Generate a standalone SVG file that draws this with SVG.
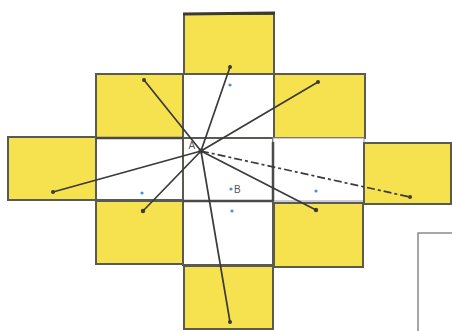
<svg xmlns="http://www.w3.org/2000/svg" width="452" height="331" viewBox="0 0 452 331">
<style>
.y{fill:#f6e24e;stroke:#5a5a55;stroke-width:2}
.w{fill:#ffffff;stroke:#5a5a55;stroke-width:2}
.ln{stroke:#3a3a3a;stroke-width:1.7;fill:none;stroke-linecap:round}
.ds{stroke:#3a3a3a;stroke-width:1.7;fill:none;stroke-dasharray:8 3 3 3}
.end{fill:#3a3a3a}
.bd{fill:#4a90d9}
.lb{font-family:"Liberation Sans",Arial,sans-serif;font-size:10px;fill:#555}
</style>
<rect width="452" height="331" fill="#fff"/>
<g id="cells">
<g id="top"><rect class="y" x="184" y="14" width="90" height="61"/><line x1="183" y1="14" x2="275" y2="13" stroke="#3a3a35" stroke-width="3"/></g>
<g id="r2-left"><rect class="y" x="96" y="74" width="87" height="64"/></g>
<g id="r2-center"><rect class="w" x="183" y="74" width="91" height="64"/></g>
<g id="r2-right"><rect class="y" x="274" y="74" width="91" height="64"/></g>
<g id="far-left"><rect class="y" x="8" y="137" width="88" height="63"/></g>
<g id="r3-left"><rect class="w" x="96" y="138" width="87" height="62"/></g>
<g id="r3-center"><rect class="w" x="183" y="138" width="90" height="63"/></g>
<g id="r3-right"><rect x="273" y="138" width="91" height="63" fill="#fff" stroke="#9a9a9a" stroke-width="1"/></g>
<g id="far-right"><rect class="y" x="364" y="143" width="87" height="61"/></g>
<g id="r4-left"><rect class="y" x="96" y="201" width="87" height="63"/></g>
<g id="r4-center"><rect class="w" x="183" y="201" width="90" height="64"/></g>
<g id="r4-right"><rect class="y" x="274" y="203" width="89" height="64"/></g>
<g id="bottom"><rect class="y" x="184" y="266" width="89" height="63"/></g>
<g id="box"><rect x="418" y="233" width="40" height="110" fill="#fff" stroke="#8a8a8a" stroke-width="1.5"/></g>
</g>
<g id="thick">
<line x1="96" y1="138" x2="183" y2="138" stroke="#4a4a4a" stroke-width="2.5"/>
<line x1="273" y1="142" x2="273" y2="201" stroke="#4a4a4a" stroke-width="2.5"/>
<line x1="183" y1="201" x2="273" y2="201" stroke="#4a4a4a" stroke-width="2.5"/>
</g>
<g id="connectors">
<line class="ln" x1="201" y1="151" x2="144" y2="80"/>
<line class="ln" x1="201" y1="151" x2="230" y2="67"/>
<line class="ln" x1="201" y1="151" x2="318" y2="82"/>
<line class="ln" x1="201" y1="151" x2="53" y2="192"/>
<line class="ln" x1="201" y1="151" x2="143" y2="211"/>
<line class="ln" x1="201" y1="151" x2="230" y2="322"/>
<line class="ln" x1="201" y1="151" x2="316" y2="210"/>
<line class="ds" x1="201" y1="151" x2="410" y2="197"/>
<circle class="end" cx="144" cy="80" r="2"/>
<circle class="end" cx="230" cy="67" r="2"/>
<circle class="end" cx="318" cy="82" r="2"/>
<circle class="end" cx="53" cy="192" r="2"/>
<circle class="end" cx="143" cy="211" r="2.2"/>
<circle class="end" cx="230" cy="322" r="2"/>
<circle class="end" cx="316" cy="210" r="2.2"/>
<circle class="end" cx="410" cy="197" r="2"/>
<circle class="end" cx="201" cy="151" r="2.5"/>
</g>
<g id="points">
<circle class="bd" cx="230" cy="85" r="1.6"/>
<circle class="bd" cx="142" cy="193" r="1.6"/>
<circle class="bd" cx="231" cy="189" r="1.6"/>
<circle class="bd" cx="232" cy="211" r="1.6"/>
<circle class="bd" cx="316" cy="191" r="1.6"/>
<text class="lb" x="188.5" y="149">A</text>
<text class="lb" x="234" y="193">B</text>
</g>
</svg>
